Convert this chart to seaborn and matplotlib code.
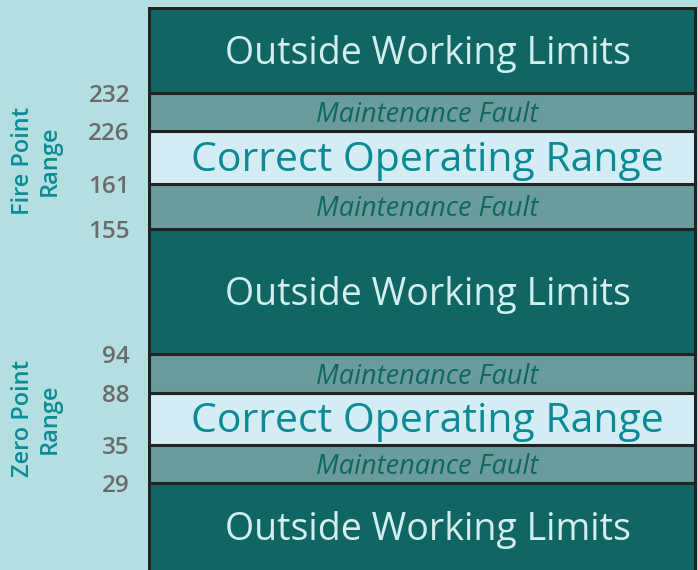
import numpy as np
import pandas as pd
import matplotlib
matplotlib.use('Agg')
import matplotlib.pyplot as plt
import seaborn as sns

# -------------------------------------------------------
# Data (bands listed bottom -> top, schematic heights)
# -------------------------------------------------------
band_labels  = ['Outside Working Limits', 'Maintenance Fault', 'Correct Operating Range',
                'Maintenance Fault', 'Outside Working Limits', 'Maintenance Fault',
                'Correct Operating Range', 'Maintenance Fault', 'Outside Working Limits']
band_kinds   = ['outside', 'maint', 'correct', 'maint', 'outside',
                'maint', 'correct', 'maint', 'outside']
band_heights = [89, 38, 51, 39, 125, 45, 52, 38, 85]
tick_labels  = ['29', '35', '88', '94', '155', '161', '226', '232']
range_names  = ['Zero Point\nRange', 'Fire Point\nRange']

# -------------------------------------------------------
# Styles
# -------------------------------------------------------
BG = '#b4dfe0'
fills  = {'outside': '#106663', 'maint': '#699c9a', 'correct': '#d4edf4'}
txtcol = {'outside': '#d3eeee', 'maint': '#0f6663', 'correct': '#0a8a95'}
txtsz  = {'outside': 27, 'maint': 19.5, 'correct': 29.5}
txtsty = {'outside': 'normal', 'maint': 'italic', 'correct': 'normal'}

sns.set_theme(style='white')
plt.rcParams['font.family'] = ['Open Sans', 'DejaVu Sans']

W, H = 698, 570
fig = plt.figure(figsize=(W / 100, H / 100), dpi=100)
fig.patch.set_facecolor(BG)

total = sum(band_heights)
ax = fig.add_axes([148 / W, 0, (W - 148 + 8) / W, (H - 6.5) / H])
ax.set_facecolor(BG)

bottoms = np.concatenate([[0], np.cumsum(band_heights)[:-1]])
df = pd.DataFrame({'pos': [0] * len(band_heights), 'height': band_heights,
                   'bottom': bottoms, 'kind': band_kinds, 'label': band_labels})

for _, row in df.iterrows():
    sns.barplot(x=[row['pos']], y=[row['height']], bottom=row['bottom'],
                width=1.0, color=fills[row['kind']], saturation=1,
                edgecolor='#222222', linewidth=2.2, ax=ax)
    # text sits a touch below the band centre in the original
    ax.text(0.01, row['bottom'] + row['height'] / 2 - 3, row['label'],
            ha='center', va='center', color=txtcol[row['kind']],
            fontsize=txtsz[row['kind']], fontstyle=txtsty[row['kind']])

ax.set_xlim(-0.502, 0.52)
ax.set_ylim(2, total + 1.5)
for s in ax.spines.values():
    s.set_visible(False)
ax.set_xticks([])
ax.set_xlabel('')

# boundary tick labels
boundaries = np.cumsum(band_heights)[:-1]
ax.set_yticks(boundaries)
ax.set_yticklabels(tick_labels, fontsize=17.5, color='#6b6b6b', fontweight='semibold')
ax.tick_params(axis='y', length=0, pad=13)

# range labels (two groups of four boundaries)
for i, name in enumerate(range_names):
    grp = boundaries[i * 4:(i + 1) * 4]
    ax.text(-0.2, (grp[0] + grp[-1]) / 2, name, transform=ax.get_yaxis_transform(),
            rotation=90, ha='center', va='center', multialignment='center',
            color='#0a8c96', fontsize=17, fontweight='semibold', linespacing=1.15)

plt.savefig('out.png', dpi=100, facecolor=BG)
